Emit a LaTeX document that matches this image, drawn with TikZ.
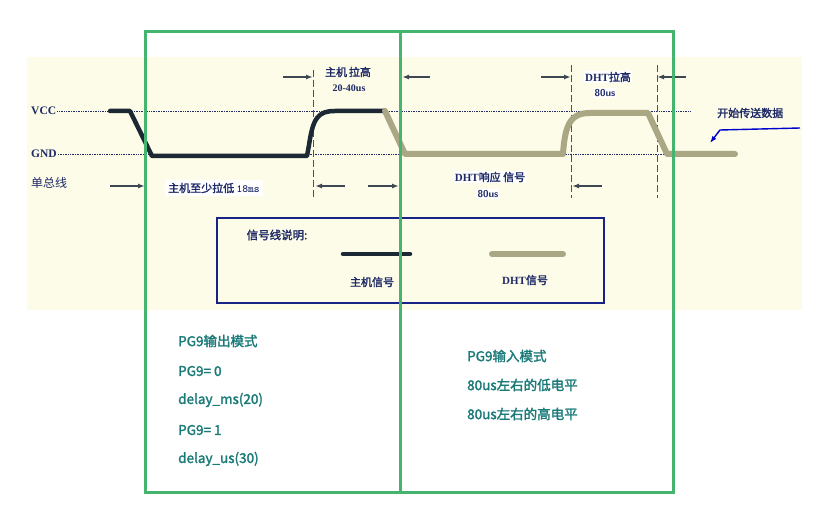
\documentclass[tikz,border=0pt]{standalone}
\usepackage{fontspec}
\setmainfont{Liberation Serif}
\newfontfamily\cjk{Noto Sans CJK SC}[AutoFakeBold=2]
\usetikzlibrary{arrows.meta}
\definecolor{cream}{HTML}{FCFCE8}
\definecolor{gbox}{HTML}{45B46E}
\definecolor{host}{HTML}{1C2833}
\definecolor{dht}{HTML}{A9A784}
\definecolor{navy}{HTML}{1F2A66}
\definecolor{teal}{HTML}{1A7A78}
\tikzset{
  lbl/.style={font=\cjk\bfseries\fontsize{11}{12}\selectfont, text=navy, inner sep=1pt},
  code/.style={font=\cjk\bfseries\fontsize{13.5}{15}\selectfont, text=teal, anchor=west, inner sep=0pt},
  lvl/.style={navy, densely dotted, line width=0.7pt},
  mk/.style={host!80, dash pattern=on 7pt off 3pt, line width=0.7pt},
  ar/.style={-{Latex[length=7pt,width=5pt]}, line width=1.8pt, host!85},
  sigh/.style={host, line width=4.5pt, line cap=round, line join=round},
  sigd/.style={dht, line width=6pt, line cap=round, line join=round},
}
\begin{document}
\begin{tikzpicture}[x=1pt,y=-1pt]
\useasboundingbox (0,0) rectangle (822,513);
\fill[cream] (27,57) rectangle (802,310);
% levels
\node[lbl, anchor=west, font=\bfseries\fontsize{11.5}{12}\selectfont] (vcc) at (30,111) {VCC};
\node[lbl, anchor=west, font=\bfseries\fontsize{11.5}{12}\selectfont] (gnd) at (30,154) {GND};
\node[lbl, anchor=west, font=\cjk\fontsize{12}{13}\selectfont] (bus) at (30,183) {单总线};
\coordinate (v2) at (690,111); \coordinate (g2) at (690,154);
\draw[lvl] (vcc.east) -- (v2);
\draw[lvl] (gnd.east) -- (g2);
% marker lines
\coordinate (m1a) at (313,70); \coordinate (m1b) at (313,198);
\coordinate (m2a) at (571,65); \coordinate (m2b) at (571,198);
\coordinate (m3a) at (657,65); \coordinate (m3b) at (657,198);
\draw[mk] (m1a) -- (m1b); \draw[mk] (m2a) -- (m2b); \draw[mk] (m3a) -- (m3b);
% signals
\draw[sigh] (110,111) -- (130,111) -- (152,156) -- (307,156) -- (309,145) .. controls (313,118) and (318,111) .. (335,111) -- (385,111);
\draw[sigd] (385,111) -- (405,154) -- (563,154) .. controls (565,122) and (572,113) .. (590,113) -- (648,113) -- (667,154) -- (735,154);
% arrows
\coordinate (a1) at (283,77); \coordinate (a1e) at (313,77);
\draw[ar] (a1) -- (a1e);
\coordinate (a2) at (430,77); \coordinate (a2e) at (402,77);
\draw[ar] (a2) -- (a2e);
\coordinate (a3) at (541,77); \coordinate (a3e) at (571,77);
\draw[ar] (a3) -- (a3e);
\coordinate (a4) at (686,77); \coordinate (a4e) at (657,77);
\draw[ar] (a4) -- (a4e);
\coordinate (b1) at (110,186); \coordinate (b1e) at (145,186);
\draw[ar] (b1) -- (b1e);
\coordinate (b2) at (345,186); \coordinate (b2e) at (315,186);
\draw[ar] (b2) -- (b2e);
\coordinate (b3) at (368,186); \coordinate (b3e) at (399,186);
\draw[ar] (b3) -- (b3e);
\coordinate (b4) at (602,186); \coordinate (b4e) at (572,186);
\draw[ar] (b4) -- (b4e);
% labels
\node[lbl] (t1) at (348,72) {主机\,拉高};
\node[lbl, font=\bfseries\fontsize{10}{11}\selectfont] (t2) at (349,88) {20-40us};
\node[lbl, fill=white] (t3) at (608,77) {\rmfamily\bfseries DHT\cjk 拉高};
\node[lbl, fill=white, font=\sffamily\bfseries\fontsize{10}{11}\selectfont] (t4) at (605,93) {80us};
\node[lbl, fill=white, anchor=west, inner sep=3pt] (t5) at (165,188) {主机至少拉低 {\ttfamily\bfseries 18ms}};
\node[lbl, fill=white] (t6) at (490,177) {{\rmfamily DHT}响应 信号};
\node[lbl, fill=white, font=\sffamily\bfseries\fontsize{10}{11}\selectfont] (t7) at (488,194) {80us};
\node[lbl, anchor=west] (t8) at (716,113) {开始传送数据};
\coordinate (s1) at (800,128); \coordinate (s2) at (720,130);
\coordinate (s3) at (710,143);
\draw[blue!80!black, line width=1.4pt, -{Latex[length=7pt,width=5pt]}] (s1) -- (s2) -- (s3);
% legend
\draw[navy!80!blue, line width=1.8pt] (217,218) rectangle (604,303);
\node[lbl, font=\cjk\bfseries\fontsize{11.5}{13}\selectfont] (l0) at (277,235) {信号线说明:};
\coordinate (h1) at (343,254); \coordinate (h2) at (410,254);
\draw[sigh] (h1) -- (h2);
\coordinate (d1) at (492,254); \coordinate (d2) at (563,254);
\draw[sigd] (d1) -- (d2);
\node[lbl] (l1) at (372,282) {主机信号};
\node[lbl] (l2) at (525,280) {{\rmfamily DHT}信号};
% green frames
\draw[gbox, line width=3pt] (145,32) rectangle (400,492);
\draw[gbox, line width=3pt] (400,32) rectangle (673,492);
% code
\node[code] (c1) at (178,341) {PG9输出模式};
\node[code] (c2) at (178,371) {PG9= 0};
\node[code] (c3) at (178,400) {delay\_ms(20)};
\node[code] (c4) at (178,430) {PG9= 1};
\node[code] (c5) at (178,459) {delay\_us(30)};
\node[code] (d1t) at (467,356) {PG9输入模式};
\node[code] (d2t) at (467,385) {80us左右的低电平};
\node[code] (d3t) at (467,414) {80us左右的高电平};
\end{tikzpicture}
\end{document}
